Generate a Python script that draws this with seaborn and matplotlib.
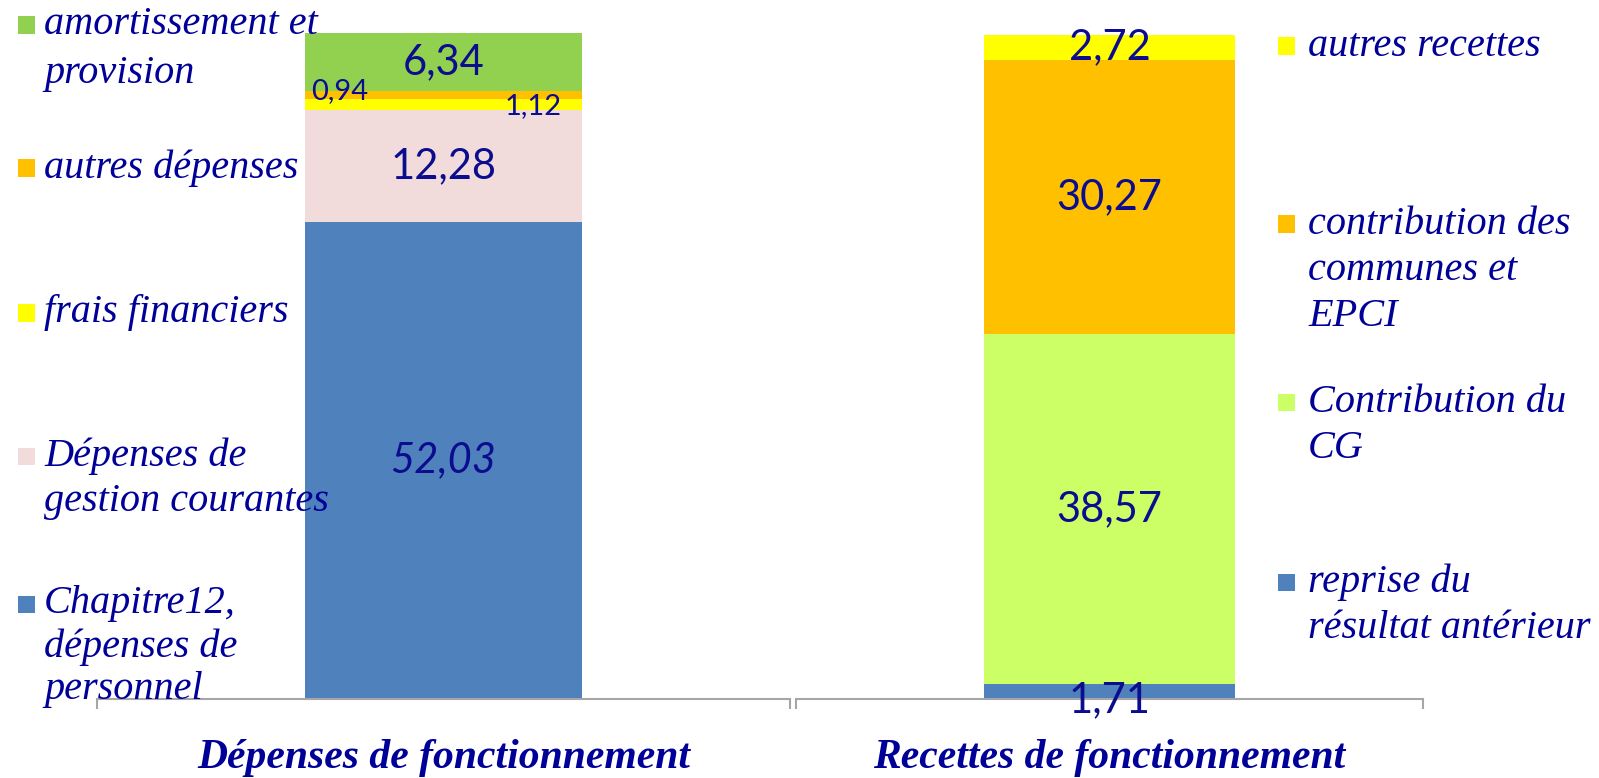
import numpy as np
import pandas as pd
import matplotlib
matplotlib.use("Agg")
import matplotlib.pyplot as plt
from matplotlib.patches import Rectangle
import seaborn as sns

sns.set_theme(style="white")
plt.rcParams['font.family'] = ['Liberation Serif', 'DejaVu Serif']

# --- data (bottom to top of each stack) ---
dep_cat = "Dépenses de fonctionnement"
dep_labels = ["Chapitre12,\ndépenses de\npersonnel",
              "Dépenses de\ngestion courantes",
              "frais financiers",
              "autres dépenses",
              "amortissement et\nprovision"]
dep_values = [52.03, 12.28, 1.12, 0.94, 6.34]
dep_colors = ["#4F81BD", "#F2DCDB", "#FFFF00", "#FFC000", "#92D050"]

rec_cat = "Recettes de fonctionnement"
rec_labels = ["reprise du\nrésultat antérieur",
              "Contribution du\nCG",
              "contribution des\ncommunes et\nEPCI",
              "autres recettes"]
rec_values = [1.71, 38.57, 30.27, 2.72]
rec_colors = ["#4F81BD", "#CCFF66", "#FFC000", "#FFFF00"]

W, H = 1599, 778
NAVY = "#000099"
LBL = "#0c0c8f"
AXC = "#a6a6a6"

fig = plt.figure(figsize=(W / 100, H / 100), dpi=100)


def px_axes(x0, x1, ytop, ybot):
    return fig.add_axes([x0 / W, 1 - ybot / H, (x1 - x0) / W, (ybot - ytop) / H])


def fmt(v):
    return f"{v:.2f}".replace(".", ",")


def draw_stack(ax, cat, values, colors):
    df = pd.DataFrame({"cat": cat, "value": values, "color": colors})
    df["top"] = df["value"].cumsum()
    df["mid"] = df["top"] - df["value"] / 2
    # draw cumulative totals from the tallest down so each segment shows
    for _, row in df[::-1].iterrows():
        sns.barplot(x=[row["cat"]], y=[row["top"]], color=row["color"],
                    saturation=1, width=0.4, linewidth=0, ax=ax)
    ax.set_xlim(-0.5, 0.5)
    ax.set_ylim(0, df["top"].iloc[-1])
    ax.set_yticks([])
    ax.set_xlabel("")
    ax.set_ylabel("")
    for s in ["left", "top", "right"]:
        ax.spines[s].set_visible(False)
    ax.spines["bottom"].set_color(AXC)
    ax.spines["bottom"].set_linewidth(1.5)
    ax.set_xticks([0], [cat])
    ax.set_xticks([-0.5, 0.5], minor=True)
    ax.tick_params(axis="x", which="major", length=0, pad=29,
                   labelsize=30, labelcolor=NAVY)
    ax.tick_params(axis="x", which="minor", length=7, width=1.5,
                   color=AXC, bottom=True, direction="out")
    for t in ax.get_xticklabels():
        t.set_fontweight("bold")
        t.set_fontstyle("italic")
    return df


ax1 = px_axes(97, 790, 32.7, 699)
d1 = draw_stack(ax1, dep_cat, dep_values, dep_colors)
ax2 = px_axes(796, 1423, 35, 699)
d2 = draw_stack(ax2, rec_cat, rec_values, rec_colors)

num_font = ["Lato", "DejaVu Sans"]
big, small = 30, 21

# data labels, left stack
ax1.text(0, d1["mid"][0], fmt(dep_values[0]), ha="center", va="center",
         fontsize=big, color=LBL, family=num_font, style="italic")
ax1.text(0, d1["mid"][1], fmt(dep_values[1]), ha="center", va="center",
         fontsize=big, color=LBL, family=num_font)
ax1.text(0.13, d1["mid"][2] - 0.2, fmt(dep_values[2]), ha="center", va="center",
         fontsize=small, color=LBL, family=num_font)
ax1.text(-0.15, d1["top"][3], fmt(dep_values[3]), ha="center", va="center",
         fontsize=small, color=LBL, family=num_font)
ax1.text(0, d1["mid"][4], fmt(dep_values[4]), ha="center", va="center",
         fontsize=big, color=LBL, family=num_font)

# data labels, right stack
for i, v in enumerate(rec_values):
    y = d2["mid"][i]
    if i == 0:
        y = y - 1.0
    ax2.text(0, y, fmt(v), ha="center", va="center",
             fontsize=big, color=LBL, family=num_font)


def legend_entry(x_sq, x_txt, y_lines, label, color):
    sq = 17
    fig.add_artist(Rectangle((x_sq / W, 1 - (y_lines[0] + sq / 2) / H),
                             sq / W, sq / H, transform=fig.transFigure,
                             facecolor=color, edgecolor="none"))
    for line, y in zip(label.split("\n"), y_lines):
        fig.text(x_txt / W, 1 - y / H, line, ha="left", va="center",
                 fontsize=29, style="italic", color=NAVY)


left_rows = {4: [25, 73], 3: [168], 2: [313], 1: [456, 502], 0: [604, 647, 689]}
for i, ys in left_rows.items():
    legend_entry(18, 44, ys, dep_labels[i], dep_colors[i])

right_rows = {3: [46], 2: [224, 270, 316], 1: [402, 448], 0: [582, 628]}
for i, ys in right_rows.items():
    legend_entry(1278, 1308, ys, rec_labels[i], rec_colors[i])

fig.savefig("out.png", dpi=100)
